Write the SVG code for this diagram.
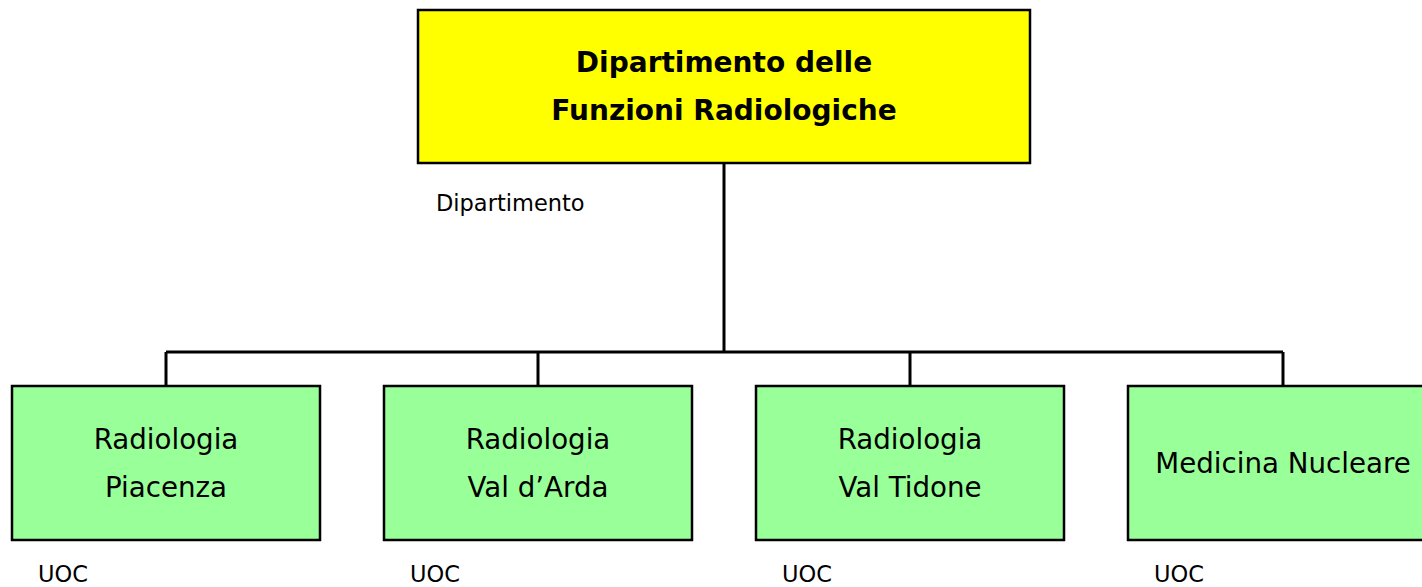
<svg xmlns="http://www.w3.org/2000/svg" width="1422" height="587" viewBox="0 0 1422 587">
<style>
text{font-family:"DejaVu Sans","Liberation Sans",sans-serif;fill:#000}
.box{stroke:#000;stroke-width:2.5}
.top{fill:#ffff00}
.child{fill:#99ff99}
.t1{font-size:28px;font-weight:bold;text-anchor:middle}
.t2{font-size:27.7px;text-anchor:middle}
.lbl{font-size:22.5px}
.con{stroke:#000;stroke-width:3;fill:none}
</style>
<rect width="1422" height="587" fill="#fff"/>
<g id="connectors">
<path class="con" d="M724 163V352M166 352H1283M166 352V386M538 352V386M910 352V386M1283 352V386"/>
</g>
<g id="dept">
<rect class="box top" x="418" y="10" width="612" height="153"/>
<text class="t1" x="724" y="72">Dipartimento delle</text>
<text class="t1" x="724" y="120">Funzioni Radiologiche</text>
<text class="lbl" x="436" y="211">Dipartimento</text>
</g>
<g id="piacenza">
<rect class="box child" x="12" y="386" width="308" height="154"/>
<text class="t2" x="166" y="449">Radiologia</text>
<text class="t2" x="166" y="497">Piacenza</text>
<text class="lbl" x="38" y="582">UOC</text>
</g>
<g id="valdarda">
<rect class="box child" x="384" y="386" width="308" height="154"/>
<text class="t2" x="538" y="449">Radiologia</text>
<text class="t2" x="538" y="497">Val d’Arda</text>
<text class="lbl" x="410" y="582">UOC</text>
</g>
<g id="valtidone">
<rect class="box child" x="756" y="386" width="308" height="154"/>
<text class="t2" x="910" y="449">Radiologia</text>
<text class="t2" x="910" y="497">Val Tidone</text>
<text class="lbl" x="782" y="582">UOC</text>
</g>
<g id="medicina">
<rect class="box child" x="1128" y="386" width="308" height="154"/>
<text class="t2" x="1283" y="473">Medicina Nucleare</text>
<text class="lbl" x="1154" y="582">UOC</text>
</g>
</svg>
